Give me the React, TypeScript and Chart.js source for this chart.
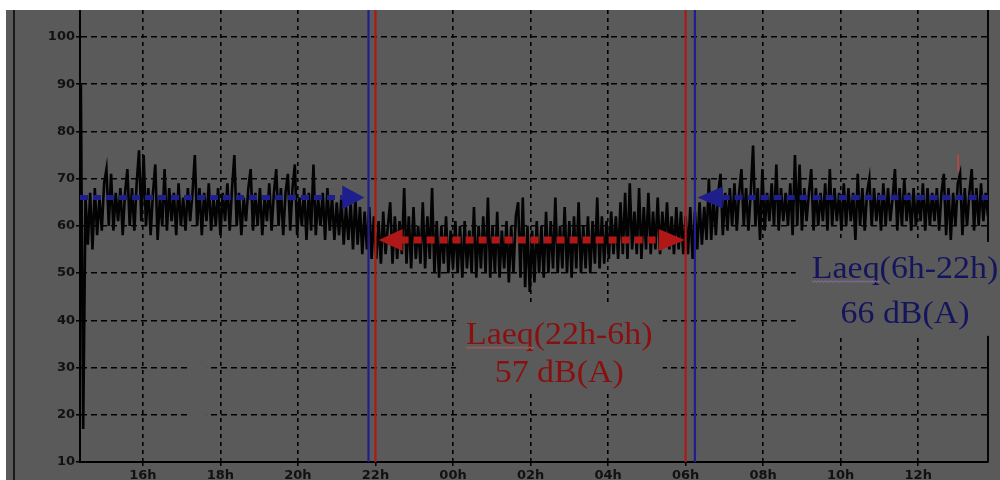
import React, { useEffect, useRef } from 'react';
import { Chart, registerables } from 'chart.js';

Chart.register(...registerables);

// ---- time axis (hours since midnight of the first day) ----
const X_MIN = 14.378;
const X_MAX = 37.8;
const X_TICK_HOURS = [16, 18, 20, 22, 24, 26, 28, 30, 32, 34, 36];
const Y_MIN = 10;
const Y_MAX = 105.7;
const Y_TICKS = [10, 20, 30, 40, 50, 60, 70, 80, 90, 100];

// ---- sound level samples, one every STEP_HOUR starting at START_HOUR ----
const START_HOUR = 14.4;
const STEP_HOUR = 0.06;

// 14h24 -> 21h58
const eveningLevels = [
  90, 17, 66, 56, 67, 55, 68, 58, 66, 59,
  69, 72, 60, 71, 59, 67, 61, 68, 58, 67,
  72, 60, 68, 59, 69, 76, 61, 75, 60, 68,
  58, 67, 73, 57, 66, 60, 72, 59, 68, 61,
  67, 58, 69, 60, 66, 59, 68, 61, 67, 75,
  60, 68, 58, 67, 61, 69, 59, 66, 60, 68,
  58, 67, 61, 69, 59, 68, 75, 60, 67, 58,
  66, 61, 68, 72, 59, 67, 60, 68, 58, 66,
  61, 69, 59, 67, 72, 60, 68, 58, 67, 71,
  59, 68, 73, 58, 66, 60, 68, 57, 67, 59,
  73, 58, 66, 60, 67, 57, 68, 59, 66, 57,
  65, 58, 66, 56, 64, 57, 65, 55, 66, 56,
  64, 54, 63, 55, 64, 53, 62,
];

// 22h01 -> 05h56
const nightLevels = [
  53, 61, 52, 63, 54, 60, 65, 52, 62, 53,
  61, 54, 68, 52, 62, 51, 64, 53, 60, 52,
  65, 51, 62, 53, 68, 50, 61, 49, 60, 52,
  62, 50, 59, 51, 61, 50, 60, 49, 61, 51,
  59, 50, 64, 49, 60, 51, 62, 50, 66, 49,
  60, 50, 63, 49, 59, 51, 61, 48, 60, 50,
  62, 65, 49, 66, 47, 60, 46, 59, 48, 61,
  50, 60, 49, 63, 50, 61, 51, 66, 50, 60,
  51, 64, 50, 61, 49, 62, 51, 65, 50, 60,
  51, 62, 50, 61, 52, 66, 51, 62, 52, 61,
  53, 63, 54, 62, 53, 65, 54, 67, 53, 69,
  55, 63, 54, 68, 53, 64, 55, 67, 54, 63,
  55, 66, 54, 63, 56, 65, 55, 62, 54, 64,
  55, 63, 54,
];

// 06h00 -> 13h48
const dayLevels = [
  62, 54, 64, 53, 63, 55, 65, 56, 64, 57,
  70, 57, 66, 58, 67, 71, 58, 67, 59, 68,
  60, 69, 59, 67, 72, 60, 68, 59, 67, 77,
  60, 68, 57, 72, 59, 67, 61, 69, 60, 73,
  59, 68, 61, 67, 60, 69, 58, 75, 60, 73,
  59, 68, 61, 67, 72, 59, 68, 60, 67, 61,
  69, 59, 72, 60, 68, 61, 67, 59, 69, 60,
  68, 61, 67, 57, 71, 60, 68, 59, 67, 70,
  60, 68, 61, 67, 59, 69, 60, 68, 61, 66,
  72, 59, 68, 60, 70, 61, 67, 59, 68, 60,
  67, 61, 69, 59, 68, 60, 67, 61, 68, 59,
  67, 71, 58, 68, 57, 67, 60, 69, 71, 58,
  68, 60, 67, 72, 59, 68, 60, 69, 61, 67,
  62,
];

// small red trace near 12h
const RED_TRACE_HOUR = 37.03;
const RED_TRACE_LEVELS = [71.5, 75];

// ---- Laeq periods ----
const DAY_LAEQ = 66;
const NIGHT_LAEQ = 57;
const RED_MARKER_HOURS = [22, 30];
const BLUE_MARKER_HOURS = [21.82, 30.24];
const DAY_ARROW_LEFT_TIP = 21.71;
const DAY_ARROW_RIGHT_TIP = 30.31;
const NIGHT_ARROW_FROM = 22.08;
const NIGHT_ARROW_TO = 29.98;

const NIGHT_LABEL = ['Laeq(22h-6h)', '57 dB(A)'];
const DAY_LABEL = ['Laeq(6h-22h)', '66 dB(A)'];
const NIGHT_LABEL_POS = { hour: 26.74, lines: [35.0, 27.0] };
const DAY_LABEL_POS = { hour: 35.66, lines: [49.0, 39.5] };

// text boxes that hide the grid behind them: [hourFrom, hourTo, levelTop, levelBottom]
const NIGHT_BOX = [24.08, 29.41, 43.1, 24.9];
const DAY_BOX = [32.84, 40, 56.6, 36.7];
const EMPTY_BOX = [17.16, 17.65, 33, 17];

const BG = '#5a5a5a';
const RED = '#b01818';
const BLUE = '#1e1e8c';
const RED_TEXT = '#8a1010';
const BLUE_TEXT = '#15155e';

const allLevels = [...eveningLevels, ...nightLevels, ...dayLevels];

function drawArrowHead(ctx: CanvasRenderingContext2D, tipX: number, y: number, dir: number, len: number, half: number, color: string) {
  ctx.fillStyle = color;
  ctx.beginPath();
  ctx.moveTo(tipX, y);
  ctx.lineTo(tipX - dir * len, y - half);
  ctx.lineTo(tipX - dir * len, y + half);
  ctx.closePath();
  ctx.fill();
}

function drawLabel(ctx: CanvasRenderingContext2D, lines: string[], cx: number, baselines: number[], color: string, wavy: string) {
  const sx = 1.06;
  ctx.save();
  ctx.font = "32px 'Liberation Serif'";
  ctx.fillStyle = color;
  ctx.textAlign = 'center';
  ctx.textBaseline = 'alphabetic';
  lines.forEach((t, i) => {
    ctx.save();
    ctx.translate(cx, baselines[i]);
    ctx.scale(sx, 1);
    ctx.fillText(t, 0, 0);
    if (i === 0) {
      const full = ctx.measureText(t).width;
      const w = ctx.measureText('Laeq').width;
      const x0 = -full / 2;
      ctx.strokeStyle = wavy;
      ctx.lineWidth = 1;
      ctx.beginPath();
      for (let k = 0; k <= Math.ceil(w / 1.5); k++) {
        const xx = x0 + k * 1.5;
        const yy = 3 + (k % 2 === 0 ? 0 : 1.5);
        if (k === 0) ctx.moveTo(xx, yy); else ctx.lineTo(xx, yy);
      }
      ctx.stroke();
    }
    ctx.restore();
  });
  ctx.restore();
}

const overlayPlugin = {
  id: 'overlay',
  beforeDatasetsDraw(chart: any) {
    const { ctx, chartArea, scales } = chart;
    const x = scales.x, y = scales.y;
    ctx.save();
    ctx.setLineDash([]);
    ctx.strokeStyle = '#050505';
    ctx.lineWidth = 2;
    ctx.beginPath();
    ctx.moveTo(chartArea.right, chartArea.top);
    ctx.lineTo(chartArea.right, chartArea.bottom);
    ctx.stroke();
    ctx.fillStyle = BG;
    [NIGHT_BOX, DAY_BOX, EMPTY_BOX].forEach((b) => {
      const x0 = x.getPixelForValue(b[0]);
      const x1 = x.getPixelForValue(b[1]);
      const y0 = y.getPixelForValue(b[2]);
      const y1 = y.getPixelForValue(b[3]);
      ctx.fillRect(x0, y0, x1 - x0, y1 - y0);
    });
    ctx.restore();
  },
  afterDatasetsDraw(chart: any) {
    const { ctx, chartArea, scales } = chart;
    const x = scales.x, y = scales.y;
    ctx.save();
    ctx.setLineDash([]);
    // period markers
    ctx.lineWidth = 2.2;
    BLUE_MARKER_HOURS.forEach((h) => {
      const px = x.getPixelForValue(h);
      ctx.strokeStyle = BLUE;
      ctx.beginPath();
      ctx.moveTo(px, chartArea.top);
      ctx.lineTo(px, chartArea.bottom);
      ctx.stroke();
    });
    RED_MARKER_HOURS.forEach((h) => {
      const px = x.getPixelForValue(h);
      ctx.strokeStyle = RED;
      ctx.beginPath();
      ctx.moveTo(px, chartArea.top);
      ctx.lineTo(px, chartArea.bottom);
      ctx.stroke();
    });

    // day Laeq arrows
    const yDay = y.getPixelForValue(DAY_LAEQ);
    const lTip = x.getPixelForValue(DAY_ARROW_LEFT_TIP);
    const rTip = x.getPixelForValue(DAY_ARROW_RIGHT_TIP);
    ctx.strokeStyle = BLUE;
    ctx.lineWidth = 5;
    ctx.setLineDash([8, 5]);
    ctx.beginPath();
    ctx.moveTo(chartArea.left, yDay);
    ctx.lineTo(lTip - 22, yDay);
    ctx.stroke();
    ctx.beginPath();
    ctx.moveTo(rTip + 24, yDay);
    ctx.lineTo(chartArea.right, yDay);
    ctx.stroke();
    ctx.setLineDash([]);
    drawArrowHead(ctx, lTip, yDay, 1, 22, 12, BLUE);
    drawArrowHead(ctx, rTip, yDay, -1, 25, 11, BLUE);

    // night Laeq arrow
    const yNight = y.getPixelForValue(NIGHT_LAEQ);
    const nA = x.getPixelForValue(NIGHT_ARROW_FROM);
    const nB = x.getPixelForValue(NIGHT_ARROW_TO);
    ctx.strokeStyle = RED;
    ctx.lineWidth = 7;
    ctx.setLineDash([8, 5]);
    ctx.beginPath();
    ctx.moveTo(nA + 22, yNight);
    ctx.lineTo(nB - 22, yNight);
    ctx.stroke();
    ctx.setLineDash([]);
    drawArrowHead(ctx, nA, yNight, -1, 24, 11, RED);
    drawArrowHead(ctx, nB, yNight, 1, 26, 11, RED);
    ctx.restore();

    // labels
    drawLabel(
      ctx,
      NIGHT_LABEL,
      x.getPixelForValue(NIGHT_LABEL_POS.hour),
      NIGHT_LABEL_POS.lines.map((v) => y.getPixelForValue(v)),
      RED_TEXT,
      '#9a5a5a'
    );
    drawLabel(
      ctx,
      DAY_LABEL,
      x.getPixelForValue(DAY_LABEL_POS.hour),
      DAY_LABEL_POS.lines.map((v) => y.getPixelForValue(v)),
      BLUE_TEXT,
      '#7a6a8a'
    );
  },
  afterDraw(chart: any) {
    const { ctx, height } = chart;
    ctx.save();
    ctx.setLineDash([]);
    ctx.strokeStyle = '#050505';
    ctx.lineWidth = 1.5;
    ctx.beginPath();
    ctx.moveTo(8, 0);
    ctx.lineTo(8, height);
    ctx.stroke();
    ctx.restore();
  },
};

function hourLabel(v: number) {
  const h = ((Math.round(v) % 24) + 24) % 24;
  return String(h).padStart(2, '0') + 'h';
}

export default function App() {
  const ref = useRef<HTMLCanvasElement | null>(null);

  useEffect(() => {
    if (!ref.current) return;
    const chart = new Chart(ref.current, {
      type: 'line',
      data: {
        datasets: [
          {
            data: RED_TRACE_LEVELS.map((v) => ({ x: RED_TRACE_HOUR, y: v })),
            borderColor: '#b04a4a',
            borderWidth: 2,
            pointRadius: 0,
          },
          {
            data: allLevels.map((v, i) => ({ x: START_HOUR + i * STEP_HOUR, y: v })),
            borderColor: '#030303',
            borderWidth: 2.6,
            pointRadius: 0,
            tension: 0,
          },
        ],
      },
      options: {
        animation: false,
        responsive: false,
        devicePixelRatio: 1,
        layout: { autoPadding: false, padding: { left: 0, right: 12, top: 0, bottom: 0 } },
        plugins: { legend: { display: false }, tooltip: { enabled: false } },
        scales: {
          x: {
            type: 'linear',
            min: X_MIN,
            max: X_MAX,
            afterBuildTicks: (scale: any) => {
              scale.ticks = X_TICK_HOURS.map((v) => ({ value: v }));
            },
            afterFit: (scale: any) => {
              scale.height = 18;
              scale.paddingLeft = 0;
              scale.paddingRight = 0;
            },
            ticks: {
              callback: (v: any) => hourLabel(Number(v)),
              color: '#111',
              font: { family: 'DejaVu Sans', weight: 'bold', size: 13 },
              padding: 2,
              maxRotation: 0,
              autoSkip: false,
            },
            grid: {
              color: (c: any) =>
                c.tick && RED_MARKER_HOURS.includes(c.tick.value) ? 'rgba(0,0,0,0)' : '#000',
              lineWidth: 1.6,
              tickLength: 4,
              tickColor: '#000',
              tickWidth: 1.5,
              tickBorderDash: [],
            },
            border: { display: true, color: '#000', width: 2, dash: [4, 4] },
          },
          y: {
            type: 'linear',
            min: Y_MIN,
            max: Y_MAX,
            afterBuildTicks: (scale: any) => {
              scale.ticks = Y_TICKS.map((v) => ({ value: v }));
            },
            afterFit: (scale: any) => {
              scale.width = 74;
              scale.paddingTop = 0;
              scale.paddingBottom = 0;
            },
            ticks: {
              color: '#111',
              font: { family: 'DejaVu Sans', weight: 'bold', size: 13 },
              padding: 1,
            },
            grid: {
              color: '#000',
              lineWidth: 1.6,
              tickLength: 4,
              tickColor: '#000',
              tickWidth: 1.5,
              tickBorderDash: [],
            },
            border: { display: true, color: '#000', width: 2, dash: [6, 4] },
          },
        },
      },
      plugins: [overlayPlugin],
    } as any);
    return () => chart.destroy();
  }, []);

  return (
    <div style={{ position: 'absolute', left: 6, top: 10, width: 994, height: 470, background: BG }}>
      <canvas ref={ref} width={994} height={470} style={{ display: 'block', width: 994, height: 470 }} />
    </div>
  );
}
